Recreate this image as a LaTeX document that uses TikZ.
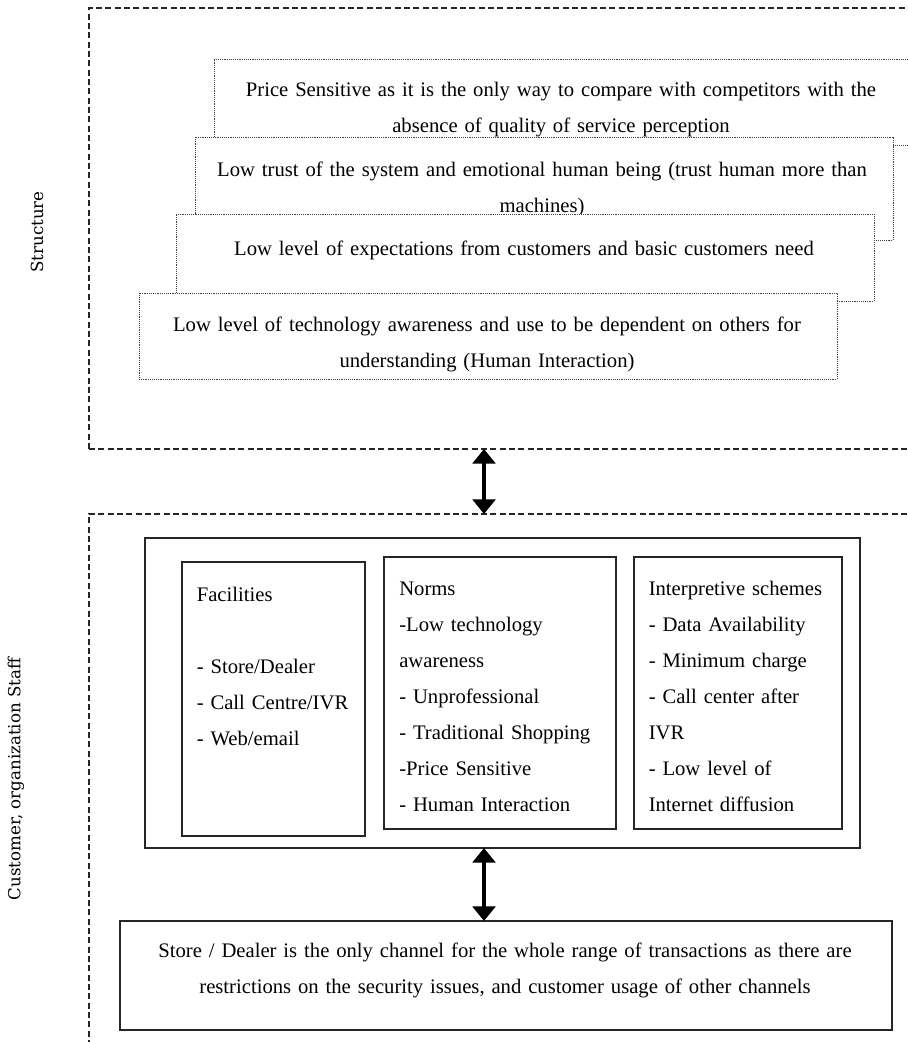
\documentclass[tikz,border=0pt]{standalone}
\usepackage{fontspec}
\setmainfont{Liberation Serif}[WordSpace=0.8]
\newfontfamily\lblfont{DejaVu Serif}
\usetikzlibrary{fit,arrows.meta}
\begin{document}
\begin{tikzpicture}[x=0.75pt,y=-0.75pt,
  dotbox/.style={draw=black!75, line width=0.7pt, dash pattern=on 0.7pt off 0.7pt, fill=white, inner sep=0pt, outer sep=0pt},
  dashbox/.style={draw=black!85, line width=0.8pt, dash pattern=on 4.5pt off 2.5pt, inner sep=0pt, outer sep=0pt},
  solidbox/.style={draw=black!85, line width=1pt, inner sep=0pt, outer sep=0pt},
  ctext/.style={font=\fontsize{15.5}{27}\selectfont, text width=#1, align=center, anchor=base, inner sep=0pt},
  ltext/.style={font=\fontsize{15.5}{27}\selectfont, text width=#1, align=left, anchor=base west, inner sep=0pt},
  sidelabel/.style={font=\lblfont\fontsize{12.5}{15}\selectfont, rotate=90, inner sep=0pt},
  biarrow/.style={line width=3pt, {Triangle[width=17pt,length=11pt]}-{Triangle[width=17pt,length=11pt]}}
]
\useasboundingbox (0,0) rectangle (907,1042);
\coordinate (ax) at (484,0);

% frames
\node[dashbox, fit={(89,8) (925,449)}] (structure) {};
\node[dashbox, fit={(89,514) (925,1060)}] (customer) {};
\node[sidelabel] (structureLbl) at (37,232) {Structure};
\node[sidelabel] (customerLbl) at (16,779) {Customer, organization Staff};

% stacked structure boxes
\node[dotbox, fit={(214,59) (908,145)}] (price) {};
\node[ctext=525pt] (priceT) at (561,96) {Price Sensitive as it is the only way to compare with competitors with the\\absence of quality of service perception};
\node[dotbox, fit={(195,137) (893,240)}] (trust) {};
\node[ctext=525pt] (trustT) at (542,176) {Low trust of the system and emotional human being (trust human more than\\machines)};
\node[dotbox, fit={(176,214) (874,301)}] (expect) {};
\node[ctext=525pt] (expectT) at (524,255) {Low level of expectations from customers and basic customers need};
\node[dotbox, fit={(139,293) (837,379)}] (tech) {};
\node[ctext=525pt] (techT) at (487,331) {Low level of technology awareness and use to be dependent on others for\\understanding (Human Interaction)};

% lower section
\node[solidbox, fit={(145,538) (860,848)}] (outer) {};
\node[solidbox, fit={(182,562) (365,836)}] (fac) {};
\node[ltext=200pt] (facT) at (196.5,601) {Facilities\\[27pt]- Store/Dealer\\- Call Centre/IVR\\- Web/email};
\node[solidbox, fit={(384,557) (616,829)}] (norms) {};
\node[ltext=200pt] (normsT) at (399,595) {Norms\\-Low technology\\awareness\\- Unprofessional\\- Traditional Shopping\\-Price Sensitive\\- Human Interaction};
\node[solidbox, fit={(634,557) (842,829)}] (interp) {};
\node[ltext=200pt] (interpT) at (648.5,595) {Interpretive schemes\\- Data Availability\\- Minimum charge\\- Call center after\\IVR\\- Low level of\\Internet diffusion};
\node[solidbox, fit={(120,921) (892,1030)}] (store) {};
\node[ctext=560pt] (storeT) at (505,957) {Store / Dealer is the only channel for the whole range of transactions as there are\\restrictions on the security issues, and customer usage of other channels};

% connectors
\draw[biarrow] (structure.south -| ax) -- (customer.north -| ax);
\draw[biarrow] (outer.south -| ax) -- (store.north -| ax);
\end{tikzpicture}
\end{document}
